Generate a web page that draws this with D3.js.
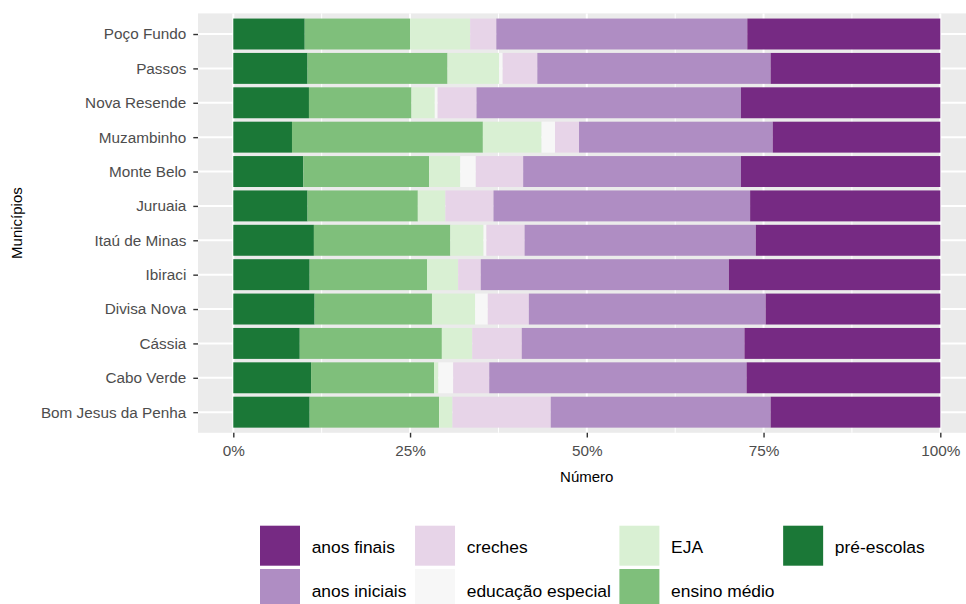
<!DOCTYPE html>
<html>
<head>
<meta charset="utf-8">
<script src="https://cdn.jsdelivr.net/npm/d3@7"></script>
<style>
  html, body { margin: 0; padding: 0; background: #fff; }
  svg { display: block; font-family: "Liberation Sans", Arial, sans-serif; }
</style>
</head>
<body>
<svg id="chart" width="966" height="604"></svg>
<script>
// Municipalities, top to bottom
const municipios = ["Poço Fundo", "Passos", "Nova Resende", "Muzambinho", "Monte Belo", "Juruaia",
  "Itaú de Minas", "Ibiraci", "Divisa Nova", "Cássia", "Cabo Verde", "Bom Jesus da Penha"];

// Share of enrolments (%) per stage, in the order of municipios
const preEscolas       = [10.1, 10.5, 10.7,  8.3,  9.9, 10.5, 11.4, 10.8, 11.5,  9.4, 11.0, 10.8];
const ensinoMedio      = [14.9, 19.8, 14.5, 27.0, 17.8, 15.6, 19.3, 16.6, 16.6, 20.1, 17.4, 18.3];
const eja              = [ 8.5,  7.3,  3.3,  8.3,  4.4,  3.9,  4.7,  4.4,  6.1,  4.3,  0.6,  1.9];
const educacaoEspecial = [ 0.0,  0.5,  0.4,  1.9,  2.2,  0.0,  0.4,  0.0,  1.8,  0.0,  2.1,  0.0];
const creches          = [ 3.7,  4.9,  5.5,  3.4,  6.7,  6.8,  5.4,  3.2,  5.8,  7.0,  5.1, 13.9];
const anosIniciais     = [35.5, 33.0, 37.4, 27.4, 30.8, 36.3, 32.7, 35.1, 33.5, 31.5, 36.4, 31.1];
const anosFinais       = [27.3, 24.0, 28.2, 23.7, 28.2, 26.9, 26.1, 29.9, 24.7, 27.7, 27.4, 24.0];

// Legend order (alphabetical) and stacking order (left to right)
const legendOrder = ["anos finais", "anos iniciais", "creches", "educação especial", "EJA", "ensino médio", "pré-escolas"];
const stackOrder = ["pré-escolas", "ensino médio", "EJA", "educação especial", "creches", "anos iniciais", "anos finais"];
const xTicks = [0, 0.25, 0.5, 0.75, 1];

const seriesValues = {
  "pré-escolas": preEscolas,
  "ensino médio": ensinoMedio,
  "EJA": eja,
  "educação especial": educacaoEspecial,
  "creches": creches,
  "anos iniciais": anosIniciais,
  "anos finais": anosFinais
};

const color = d3.scaleOrdinal()
  .domain(legendOrder)
  .range(["#762A83", "#AF8DC3", "#E7D4E8", "#F7F7F7", "#D9F0D3", "#7FBF7B", "#1B7837"]);

const rows = municipios.map((m, i) => {
  const r = { municipio: m };
  stackOrder.forEach(k => r[k] = seriesValues[k][i]);
  return r;
});

const stacked = d3.stack().keys(stackOrder).offset(d3.stackOffsetExpand)(rows);

const svg = d3.select("#chart");

// Panel geometry
const panel = { left: 198, right: 975.7, top: 13.4, bottom: 432.8 };
const x = d3.scaleLinear().domain([0, 1]).range([233.3, 940.3]);
const y = d3.scalePoint().domain(municipios).range([panel.top, panel.bottom]).padding(0.6);
const barH = y.step() * 0.9;

// Panel background
svg.append("rect")
  .attr("x", panel.left).attr("y", panel.top)
  .attr("width", panel.right - panel.left).attr("height", panel.bottom - panel.top)
  .attr("fill", "#EBEBEB");

const grid = svg.append("g");
// minor vertical gridlines
[0.125, 0.375, 0.625, 0.875].forEach(v => {
  grid.append("line")
    .attr("x1", x(v)).attr("x2", x(v))
    .attr("y1", panel.top).attr("y2", panel.bottom)
    .attr("stroke", "#fff").attr("stroke-width", 1);
});
// major vertical gridlines
xTicks.forEach(v => {
  grid.append("line")
    .attr("x1", x(v)).attr("x2", x(v))
    .attr("y1", panel.top).attr("y2", panel.bottom)
    .attr("stroke", "#fff").attr("stroke-width", 2);
});
// major horizontal gridlines
municipios.forEach(m => {
  grid.append("line")
    .attr("x1", panel.left).attr("x2", panel.right)
    .attr("y1", y(m)).attr("y2", y(m))
    .attr("stroke", "#fff").attr("stroke-width", 2);
});

// Stacked bars
svg.append("g")
  .selectAll("g")
  .data(stacked)
  .join("g")
  .attr("fill", d => color(d.key))
  .selectAll("rect")
  .data(d => d)
  .join("rect")
  .attr("x", d => x(d[0]))
  .attr("width", d => Math.max(0, x(d[1]) - x(d[0])))
  .attr("y", d => y(d.data.municipio) - barH / 2)
  .attr("height", barH);

// Y axis
const yAxis = svg.append("g")
  .attr("transform", `translate(${panel.left},0)`)
  .call(d3.axisLeft(y).tickSize(4.7).tickPadding(7));
yAxis.select(".domain").remove();
yAxis.selectAll(".tick line").attr("stroke", "#333333").attr("stroke-width", 1.4);
yAxis.selectAll(".tick text")
  .attr("fill", "#4D4D4D")
  .style("font-size", "15.3px")
  .style("font-family", "'Liberation Sans', Arial, sans-serif");

// X axis
const xAxis = svg.append("g")
  .attr("transform", `translate(0,${panel.bottom})`)
  .call(d3.axisBottom(x).tickValues(xTicks).tickFormat(d3.format(".0%")).tickSize(4.7).tickPadding(7.5));
xAxis.select(".domain").remove();
xAxis.selectAll(".tick line").attr("stroke", "#333333").attr("stroke-width", 1.4);
xAxis.selectAll(".tick text")
  .attr("fill", "#4D4D4D")
  .style("font-size", "15.3px")
  .style("font-family", "'Liberation Sans', Arial, sans-serif");

// Axis titles
svg.append("text")
  .attr("x", (x(0) + x(1)) / 2).attr("y", 477).attr("dy", "0.35em")
  .attr("text-anchor", "middle")
  .style("font-size", "15px")
  .text("Número");

svg.append("text")
  .attr("transform", `translate(17,${(panel.top + panel.bottom) / 2}) rotate(-90)`)
  .attr("dy", "0.35em")
  .attr("text-anchor", "middle")
  .style("font-size", "15px")
  .text("Municípios");

// Legend: 2 rows, filled column by column
const legend = svg.append("g");
const keySize = 40, rowStep = 43.3, textGap = 11.7, colGap = 8.6;
const legendTop = 525.7;
let colX = 260;
const nCols = Math.ceil(legendOrder.length / 2);
for (let c = 0; c < nCols; c++) {
  const items = legendOrder.slice(c * 2, c * 2 + 2);
  let maxW = 0;
  items.forEach((name, r) => {
    const ky = legendTop + r * rowStep;
    legend.append("rect")
      .attr("x", colX).attr("y", ky)
      .attr("width", keySize).attr("height", keySize)
      .attr("fill", color(name));
    const t = legend.append("text")
      .attr("x", colX + keySize + textGap)
      .attr("y", ky + keySize / 2 + 1.5)
      .attr("dy", "0.35em")
      .style("font-size", "17.4px")
      .text(name);
    maxW = Math.max(maxW, t.node().getComputedTextLength());
  });
  colX += keySize + textGap + maxW + colGap;
}
</script>
</body>
</html>
